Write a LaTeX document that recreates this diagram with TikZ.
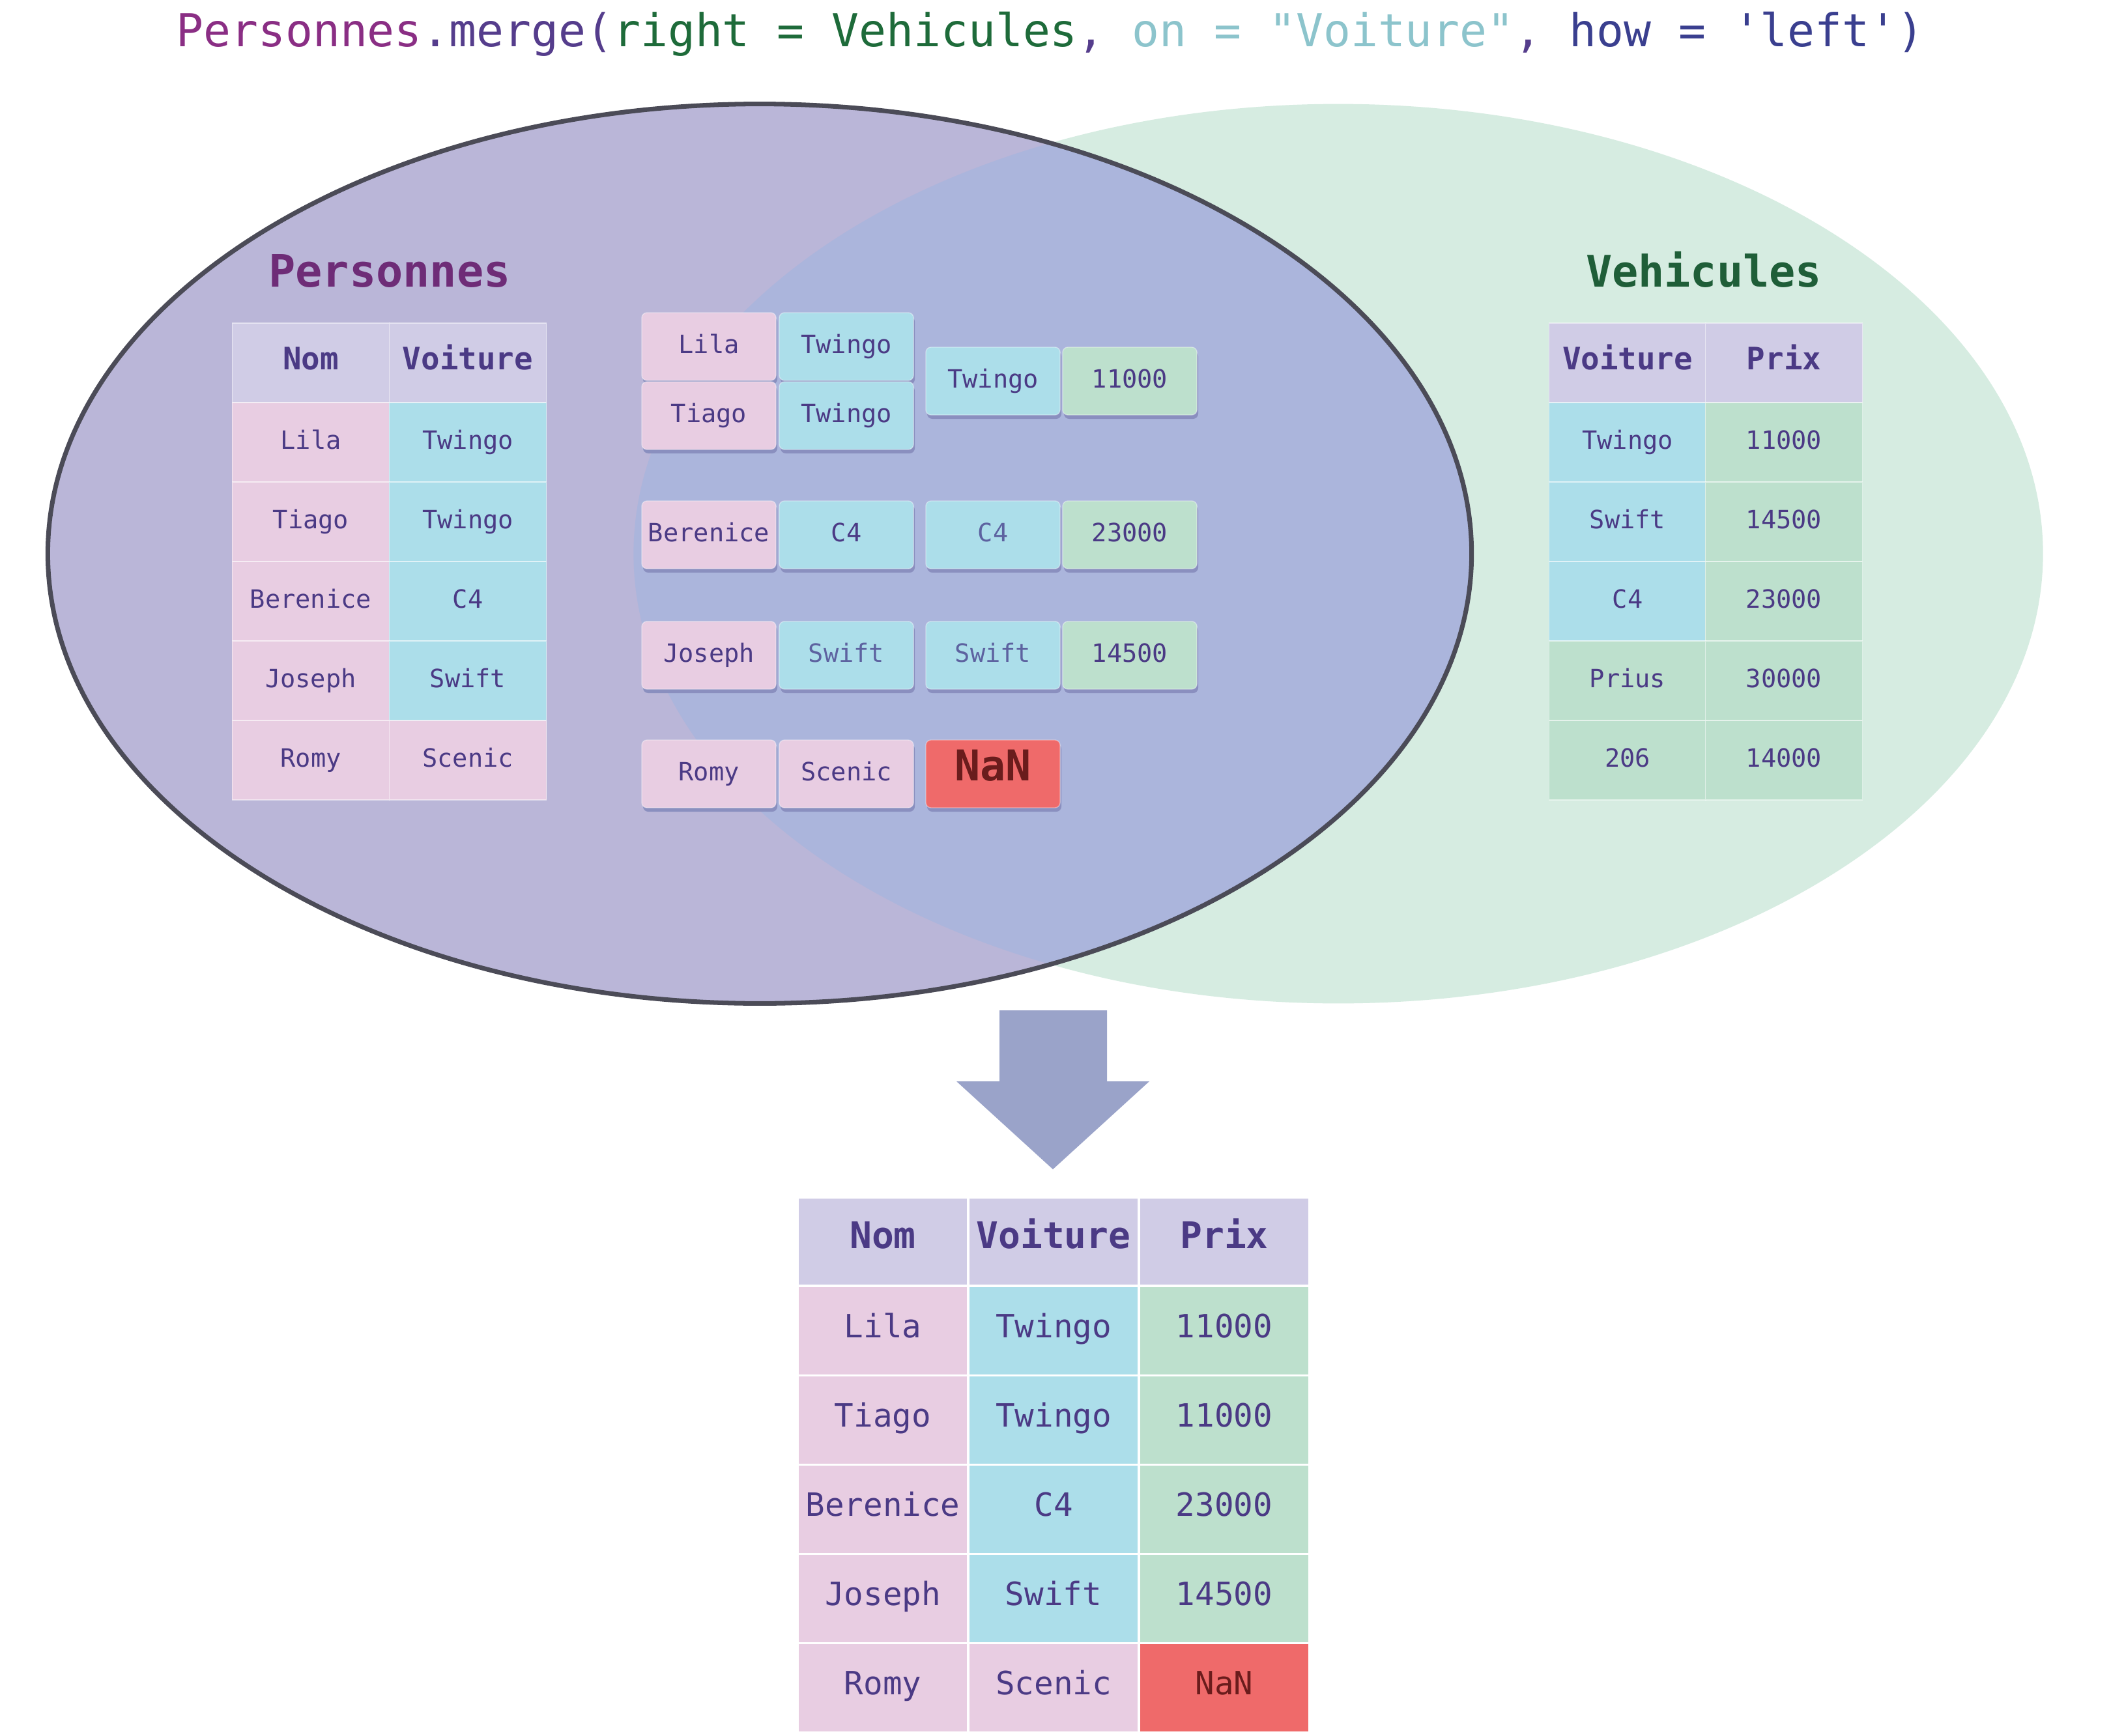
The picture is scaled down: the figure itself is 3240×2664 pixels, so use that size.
\documentclass[tikz,border=0pt]{standalone}
\usepackage{fontspec}
\setmonofont{DejaVu Sans Mono}
\usetikzlibrary{shadows}

\definecolor{persc}{HTML}{8A2E84}
\definecolor{mergec}{HTML}{553D8C}
\definecolor{rightc}{HTML}{1E6B3A}
\definecolor{onc}{HTML}{8CC4CC}
\definecolor{howc}{HTML}{3A3F8F}
\definecolor{leftfill}{HTML}{BAB6D8}
\definecolor{bothfill}{HTML}{ABB5DC}
\definecolor{rightfill}{HTML}{D6ECE1}
\definecolor{borderc}{HTML}{4B4B57}
\definecolor{headc}{HTML}{D0CCE6}
\definecolor{pinkc}{HTML}{E8CDE2}
\definecolor{cyanc}{HTML}{ACDEEA}
\definecolor{greenc}{HTML}{BDE0CD}
\definecolor{nanc}{HTML}{EF6A6A}
\definecolor{nantext}{HTML}{6A1C1C}
\definecolor{textc}{HTML}{4B3A85}
\definecolor{softtext}{HTML}{5D62A0}
\definecolor{shadowc}{HTML}{8A8FBF}
\definecolor{arrowc}{HTML}{9AA3C9}
\definecolor{perslabel}{HTML}{6E2C77}
\definecolor{vehlabel}{HTML}{1F5E38}

\tikzset{
  cell/.style={minimum width=2.41cm, minimum height=1.22cm, inner sep=0pt, outer sep=0pt,
    text=textc, draw=white, draw opacity=0.5, line width=0.4pt,
    text height=1.7ex, text depth=0.3ex, font=\ttfamily\fontsize{11}{13}\selectfont},
  headcell/.style={cell, fill=headc, font=\ttfamily\bfseries\fontsize{13.5}{16}\selectfont},
  bigcell/.style={cell, minimum width=2.62cm, minimum height=1.37cm, draw opacity=1,
    line width=1pt, font=\ttfamily\fontsize{14}{17}\selectfont},
  bighead/.style={bigcell, fill=headc, minimum height=1.35cm, font=\ttfamily\bfseries\fontsize{16}{19}\selectfont},
  tile/.style={rounded corners=0.08cm, minimum width=2.06cm, minimum height=1.04cm, inner sep=0pt,
    text=textc, draw=white, draw opacity=0.4, text height=1.7ex, text depth=0.3ex,
    font=\ttfamily\fontsize{11}{13}\selectfont,
    drop shadow={shadow xshift=0.02cm, shadow yshift=-0.06cm, fill=shadowc, opacity=1}},
  pinkfill/.style={fill=pinkc},
  cyanfill/.style={fill=cyanc},
  greenfill/.style={fill=greenc},
  nanfill/.style={fill=nanc, text=nantext},
  label/.style={anchor=base, font=\ttfamily\fontsize{20}{24}\selectfont},
}

\begin{document}
\begin{tikzpicture}[x=0.01cm, y=-0.01cm]
	\useasboundingbox (0,0) rectangle (3240,2664);
	\fill[white] (0,0) rectangle (3240,2664);

	% the two sets
	\fill[rightfill] (2054,850) ellipse [x radius=10.81cm, y radius=6.9cm];
	\fill[leftfill] (1166,850) ellipse [x radius=10.92cm, y radius=6.9cm];
	\begin{scope}
		\clip (1166,850) ellipse [x radius=10.92cm, y radius=6.9cm];
		\fill[bothfill] (2054,850) ellipse [x radius=10.81cm, y radius=6.9cm];
	\end{scope}
	\draw[borderc, line width=2pt] (1166,850) ellipse [x radius=10.92cm, y radius=6.9cm];

	\node[label] (titre) at (1612,72) {\fontsize{19.8}{24}\selectfont\textcolor{persc}{Personnes}\textcolor{mergec}{.merge(}\textcolor{rightc}{right = Vehicules}\textcolor{mergec}{,} \textcolor{onc}{on = "Voiture"}\textcolor{mergec}{,} \textcolor{howc}{how = 'left')}};
	\node[label, text=perslabel, font=\ttfamily\bfseries\fontsize{19.5}{24}\selectfont] (pers) at (598,440) {Personnes};
	\node[label, text=vehlabel, font=\ttfamily\bfseries\fontsize{19}{24}\selectfont] (veh) at (2615,440) {Vehicules};

	% Personnes
	\node[headcell] (pnh) at (477,557) {Nom};
	\node[headcell] (pvh) at (718,557) {Voiture};
	\foreach \nom/\voit/\vc [count=\i] in {Lila/Twingo/cyanfill, Tiago/Twingo/cyanfill, Berenice/C4/cyanfill, Joseph/Swift/cyanfill, Romy/Scenic/pinkfill}{
		\node[cell, pinkfill] (pn\i) at (477,557+122*\i) {\nom};
		\node[cell, \vc] (pv\i) at (718,557+122*\i) {\voit};
	};

	% Vehicules
	\node[headcell] (vvh) at (2498,557) {Voiture};
	\node[headcell] (vph) at (2738,557) {Prix};
	\foreach \voit/\prix/\vc [count=\i] in {Twingo/11000/cyanfill, Swift/14500/cyanfill, C4/23000/cyanfill, Prius/30000/greenfill, 206/14000/greenfill}{
		\node[cell, \vc] (vv\i) at (2498,557+122*\i) {\voit};
		\node[cell, greenfill] (vp\i) at (2738,557+122*\i) {\prix};
	};

	% matching rows
	\node[tile, pinkfill] (m1n) at (1088,532) {Lila};
	\node[tile, cyanfill] (m1v) at (1299,532) {Twingo};
	\node[tile, pinkfill] (m2n) at (1088,638) {Tiago};
	\node[tile, cyanfill] (m2v) at (1299,638) {Twingo};
	\node[tile, cyanfill] (m1w) at (1524,585) {Twingo};
	\node[tile, greenfill] (m1p) at (1734,585) {11000};

	\node[tile, pinkfill] (m3n) at (1088,821) {Berenice};
	\node[tile, cyanfill] (m3v) at (1299,821) {C4};
	\node[tile, cyanfill, text=softtext] (m3w) at (1524,821) {C4};
	\node[tile, greenfill] (m3p) at (1734,821) {23000};

	\node[tile, pinkfill] (m4n) at (1088,1006) {Joseph};
	\node[tile, cyanfill, text=softtext] (m4v) at (1299,1006) {Swift};
	\node[tile, cyanfill, text=softtext] (m4w) at (1524,1006) {Swift};
	\node[tile, greenfill] (m4p) at (1734,1006) {14500};

	\node[tile, pinkfill] (m5n) at (1088,1188) {Romy};
	\node[tile, pinkfill] (m5v) at (1299,1188) {Scenic};
	\node[tile, nanfill, font=\ttfamily\bfseries\fontsize{18.5}{22}\selectfont] (m5p) at (1524,1188) {NaN};

	% result
	\fill[arrowc] (1534,1551) -- (1699,1551) -- (1699,1660) -- (1764,1660) -- (1616,1795) -- (1468,1660) -- (1534,1660) -- cycle;

	\node[bighead] (rnh) at (1355,1906) {Nom};
	\node[bighead] (rvh) at (1617,1906) {Voiture};
	\node[bighead] (rph) at (1879,1906) {Prix};
	\foreach \nom/\voit/\prix/\vc/\pc [count=\i] in {Lila/Twingo/11000/cyanfill/greenfill, Tiago/Twingo/11000/cyanfill/greenfill, Berenice/C4/23000/cyanfill/greenfill, Joseph/Swift/14500/cyanfill/greenfill, Romy/Scenic/NaN/pinkfill/nanfill}{
		\node[bigcell, pinkfill] (rn\i) at (1355,1906+137*\i) {\nom};
		\node[bigcell, \vc] (rv\i) at (1617,1906+137*\i) {\voit};
		\node[bigcell, \pc] (rp\i) at (1879,1906+137*\i) {\prix};
	};
\end{tikzpicture}
\end{document}
